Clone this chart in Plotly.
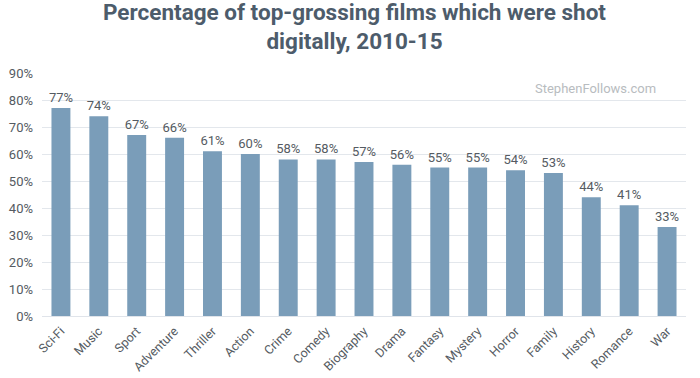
import plotly.graph_objects as go

genres = ["Sci-Fi", "Music", "Sport", "Adventure", "Thriller", "Action", "Crime", "Comedy",
          "Biography", "Drama", "Fantasy", "Mystery", "Horror", "Family", "History", "Romance", "War"]
values = [77, 74, 67, 66, 61, 60, 58, 58, 57, 56, 55, 55, 54, 53, 44, 41, 33]
labels = [f"{v}%" for v in values]

title_text = "Percentage of top-grossing films which were shot<br>digitally, 2010-15"

W, H = 700, 378
L, R, T, B = 42, 14, 73, 62
ph = H - T - B

def py(page_y):
    return (H - B - page_y) / ph

def px(page_x):
    return (page_x - L) / (W - L - R)

fig = go.Figure(go.Bar(
    x=genres, y=values, text=labels, textposition="outside", constraintext="none",
    marker=dict(color="#7a9db9", line=dict(width=0)),
    textfont=dict(family="Roboto", size=13, color="#555b62"),
    cliponaxis=False, hoverinfo="skip"))

fig.update_layout(
    template="none",
    width=W, height=H,
    margin=dict(l=L, r=R, t=T, b=B),
    paper_bgcolor="white", plot_bgcolor="white",
    bargap=0.5, showlegend=False,
    xaxis=dict(tickangle=-45, tickfont=dict(family="Roboto", size=12.5, color="#555b62"),
               showgrid=False, showline=True, linecolor="#e0e4ea", ticks="", automargin=False,
               ticklabelstandoff=2),
    yaxis=dict(range=[0, 90], dtick=10, ticksuffix="%", showgrid=True, gridcolor="#e3e7ec",
               zeroline=False, showline=False, tickfont=dict(family="Roboto", size=13, color="#555b62"),
               ticks="", automargin=False, ticklabelstandoff=8),
    annotations=[
        dict(text=f"<b>{title_text}</b>", x=px(354), y=py(27), xref="paper", yref="paper",
             yanchor="middle", xanchor="center", showarrow=False, align="center",
             font=dict(family="Roboto", size=22.5, color="#4d5c6b")),
        dict(text="StephenFollows.com", x=px(658), y=py(88), xref="paper", yref="paper",
             xanchor="right", yanchor="middle", showarrow=False,
             font=dict(family="Roboto", size=13, color="#b8bcc0"))]
)

fig.write_html("out.html", config={"displayModeBar": False},
               post_script="document.body.style.margin='0';document.body.style.overflow='hidden';")
